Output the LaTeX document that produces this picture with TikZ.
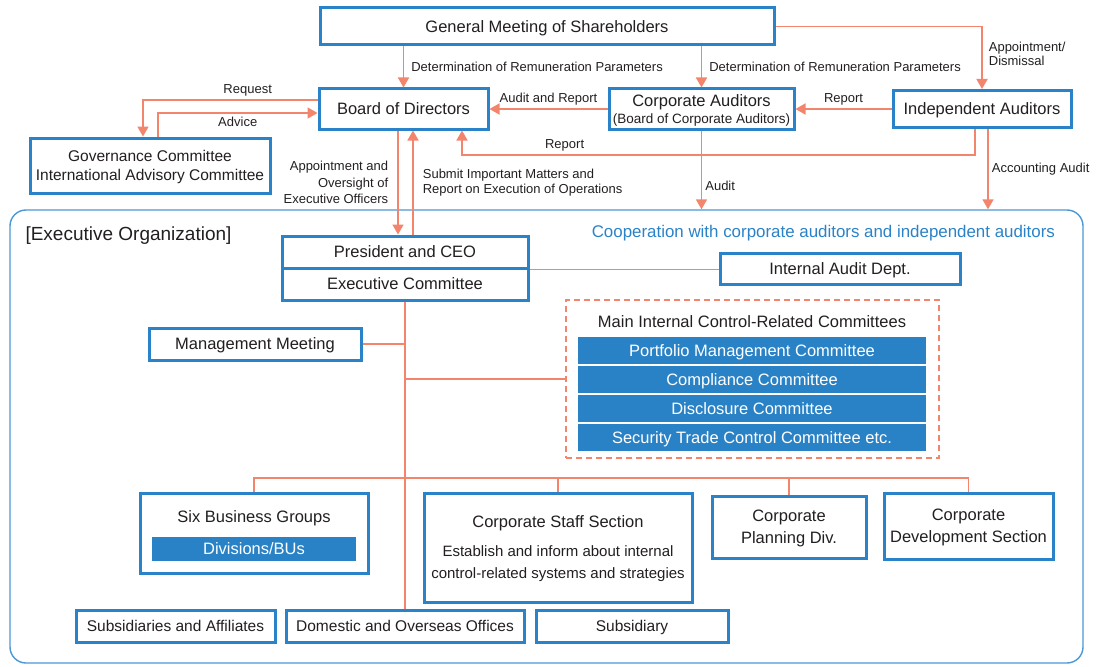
\documentclass[tikz,border=0pt]{standalone}
\usepackage{fontspec}
\setmainfont{Liberation Sans}
\usetikzlibrary{arrows.meta, positioning}

\definecolor{boxblue}{HTML}{2A82C8}
\definecolor{barblue}{HTML}{2A82C6}
\definecolor{lineblue}{HTML}{4A97D5}
\definecolor{coral}{HTML}{F2856B}
\definecolor{ink}{HTML}{231F20}
\newcommand{\bodytxt}{\fontsize{15}{18}\selectfont}

\begin{document}
\begin{tikzpicture}[x=1pt, y=-1pt,
        >={Triangle[width=11pt,length=10pt]},
        box/.style={draw=boxblue, line width=3pt, fill=white, align=center, text=ink,
            font=\fontsize{16.5}{19}\selectfont, inner sep=2pt, text depth=0pt},
        bar/.style={fill=barblue, text=white, minimum width=348pt, minimum height=27pt,
            inner sep=0pt, text depth=0pt, font=\fontsize{16.5}{19}\selectfont},
        link/.style={->, draw=coral, line width=1.7pt},
        tree/.style={draw=coral, line width=1.3pt},
        lab/.style={font=\fontsize{13}{14.5}\selectfont, text=ink, inner sep=3pt}
    ]
        \useasboundingbox (0,0) rectangle (1099,666);

        % governing bodies
        \node[box, minimum width=454pt, minimum height=37pt] (gm) at (547,26.5) {General Meeting of Shareholders};
        \node[box, minimum width=169pt, minimum height=40pt] (bod) at (403.5,109) {Board of Directors};
        \node[box, minimum width=185pt, minimum height=40pt, inner sep=1pt] (ca) at (701.5,109)
            {Corporate Auditors\\[-2pt]{\fontsize{13.5}{15}\selectfont(Board of Corporate Auditors)}};
        \node[box, minimum width=178pt, minimum height=37pt] (ia) at (982,109) {Independent Auditors};
        \node[box, minimum width=240pt, minimum height=55pt, font=\fontsize{15.5}{19}\selectfont] (gov) at (150,165.5)
            {Governance Committee\\International Advisory Committee};

        % executive organization
        \node[draw=lineblue, line width=1.4pt, rounded corners=16pt, minimum width=1073pt, minimum height=453pt] (org) at (546.5,436.5) {};
        \node[anchor=west, text=ink, font=\fontsize{19}{22}\selectfont] (orgt) at (22,236) {[Executive Organization]};
        \node[anchor=east, text=boxblue, font=\fontsize{16.9}{20}\selectfont] (coop) at (1058.5,233)
            {Cooperation with corporate auditors and independent auditors};

        \node[box, minimum width=246pt, minimum height=32pt] (ceo) at (405,252) {President and CEO};
        \node[box, minimum width=246pt, minimum height=32pt] (ec) at (405,284) {Executive Committee};
        \node[box, minimum width=240pt, minimum height=31pt] (iad) at (840,268.5) {Internal Audit Dept.};
        \node[box, minimum width=212pt, minimum height=32pt] (mm) at (255,344) {Management Meeting};

        % committees
        \node[draw=coral, line width=1.3pt, dash pattern=on 6pt off 4pt, minimum width=373pt, minimum height=158pt] (ctrl) at (752.5,379) {};
        \node[text=ink, font=\fontsize{16.5}{19}\selectfont] (ctrlt) at (752,322) {Main Internal Control-Related Committees};
        \node[bar] (c1) at (752,350.5) {Portfolio Management Committee};
        \node[bar, below=1.5pt of c1] (c2) {Compliance Committee};
        \node[bar, below=1.5pt of c2] (c3) {Disclosure Committee};
        \node[bar, below=1.5pt of c3] (c4) {Security Trade Control Committee etc.};

        % sections
        \node[box, minimum width=228pt, minimum height=80pt] (sbg) at (254,533) {};
        \node[text=ink, font=\fontsize{16.5}{19}\selectfont] (sbgt) at (254,518) {Six Business Groups};
        \node[bar, minimum width=204pt, minimum height=24pt] (div) at (254,549) {Divisions/BUs};
        \node[box, minimum width=268pt, minimum height=109pt] (css) at (558,547.5)
            {Corporate Staff Section\\[10pt]{\bodytxt Establish and inform about internal}\\[3pt]{\bodytxt control-related systems and strategies}};
        \node[box, minimum width=154pt, minimum height=62pt] (cpd) at (789,527) {Corporate\\[3pt]Planning Div.};
        \node[box, minimum width=169pt, minimum height=66pt] (cds) at (968.5,526) {Corporate\\[3pt]Development Section};

        \node[box, minimum width=199pt, minimum height=32pt, font=\fontsize{15.5}{19}\selectfont] (saf) at (175.5,626) {Subsidiaries and Affiliates};
        \node[box, minimum width=238pt, minimum height=32pt, font=\fontsize{15.5}{19}\selectfont] (dom) at (405,626) {Domestic and Overseas Offices};
        \node[box, minimum width=192pt, minimum height=32pt, font=\fontsize{15.5}{19}\selectfont] (sub) at (632,626) {Subsidiary};

        % arrows
        \draw[link] (gm.south -| bod.north) -- (bod.north) node[midway, right, lab, xshift=4pt] {Determination of Remuneration Parameters};
        \draw[link] (gm.south -| ca.north) -- (ca.north) node[midway, right, lab, xshift=4pt] {Determination of Remuneration Parameters};
        \draw[link] (gm.east) -| (ia.north) node[pos=0.72, right, lab, align=left, xshift=3pt] {Appointment/\\Dismissal};
        \draw[link] (ca.west) -- (bod.east) node[midway, above, lab] {Audit and Report};
        \draw[link] (ia.west) -- (ca.east) node[midway, above, lab] {Report};
        \coordinate (rep) at (462,155);
        \draw[link] ([xshift=-7pt]ia.south) |- (rep) node[pos=0.9, above, lab] {Report} -- (rep |- bod.south);
        \draw[link] ([xshift=6pt]ia.south) -- ([xshift=6pt]ia.south |- org.north) node[midway, right, lab] {Accounting Audit};
        \draw[link] (ca.south) -- (ca.south |- org.north) node[pos=0.7, right, lab] {Audit};
        \draw[link] ([yshift=9pt]bod.west) -| ([xshift=-7pt]gov.north) node[pos=0.2, above, lab] {Request};
        \draw[link] ([xshift=8pt]gov.north) |- ([yshift=-4pt]bod.west) node[pos=0.75, below, lab] {Advice};
        \draw[link] ([xshift=-5.5pt]bod.south) -- ([xshift=-5.5pt]bod.south |- ceo.north)
            node[midway, left, lab, align=right, xshift=-6pt] {Appointment and\\[2pt]Oversight of\\[2pt]Executive Officers};
        \draw[link] ([xshift=9.5pt]bod.south |- ceo.north) -- ([xshift=9.5pt]bod.south)
            node[midway, right, lab, align=left, xshift=6pt] {Submit Important Matters and\\Report on Execution of Operations};

        % lines inside the organization
        \draw[tree] (ceo.south east) -- (ceo.south east -| iad.west);
        \draw[tree] (ec.south) -- (dom.north);
        \draw[tree] (mm.east) -- (mm.east -| ec.south);
        \draw[tree] (ctrl.west -| ec.south) -- (ctrl.west);
        \coordinate (bus) at (0,478);
        \draw[tree] (sbg.north) |- (bus -| cds.north) -- (cds.north);
        \draw[tree] (css.north) -- (css.north |- bus);
        \draw[tree] (cpd.north) -- (cpd.north |- bus);
    \end{tikzpicture}
\end{document}
